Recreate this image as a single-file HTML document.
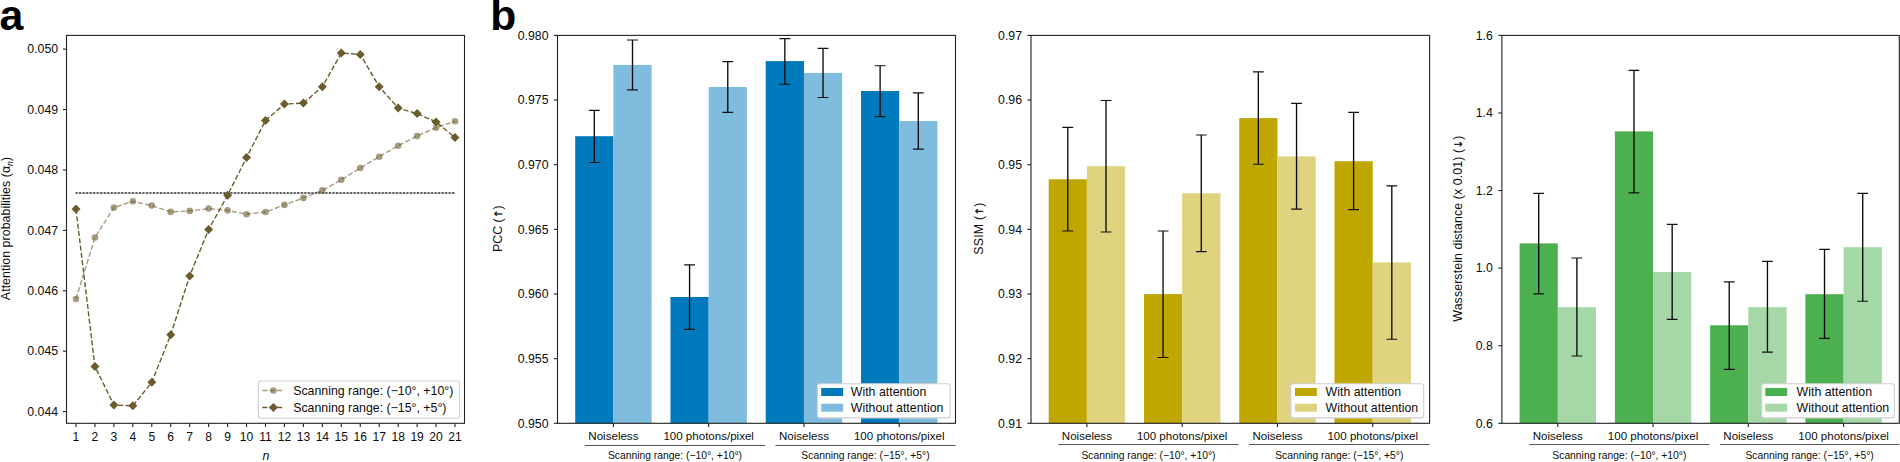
<!DOCTYPE html>
<html lang="en">
<head>
<meta charset="utf-8">
<title>Attention probabilities and reconstruction metrics</title>
<style>
html,body{margin:0;padding:0;background:#fff;}
body{width:1900px;height:462px;overflow:hidden;}
svg{display:block;font-family:"Liberation Sans", Arial, Helvetica, sans-serif;}
svg text{white-space:pre;}
</style>
</head>
<body>
<svg width="1900" height="462" viewBox="0 0 1900 462">
<rect width="1900" height="462" fill="#fff"/>
<g id="panel-a">
<text x="-0.60" y="30.10" font-size="42.8" text-anchor="start" fill="#000" font-weight="700">a</text>
<line x1="75.60" y1="192.95" x2="455.32" y2="192.95" stroke="#d4d4d4" stroke-width="2"/>
<line x1="75.60" y1="192.95" x2="455.32" y2="192.95" stroke="#5c5c5c" stroke-width="2" stroke-dasharray="1.9 1.62"/>
<polyline points="75.98,299.00 94.93,237.50 113.88,207.60 132.83,201.30 151.79,205.60 170.74,211.90 189.69,210.90 208.64,208.60 227.60,210.40 246.55,214.20 265.50,212.00 284.45,204.90 303.40,197.90 322.36,190.40 341.31,179.80 360.26,168.00 379.21,156.70 398.17,145.70 417.12,136.10 436.07,127.70 455.02,121.20" fill="none" stroke="#6b5b2d" stroke-opacity="0.6" stroke-width="1.4" stroke-dasharray="5.1 2.25"/>
<circle cx="75.98" cy="299.00" r="3.3" fill="#6b5b2d" fill-opacity="0.6"/>
<circle cx="94.93" cy="237.50" r="3.3" fill="#6b5b2d" fill-opacity="0.6"/>
<circle cx="113.88" cy="207.60" r="3.3" fill="#6b5b2d" fill-opacity="0.6"/>
<circle cx="132.83" cy="201.30" r="3.3" fill="#6b5b2d" fill-opacity="0.6"/>
<circle cx="151.79" cy="205.60" r="3.3" fill="#6b5b2d" fill-opacity="0.6"/>
<circle cx="170.74" cy="211.90" r="3.3" fill="#6b5b2d" fill-opacity="0.6"/>
<circle cx="189.69" cy="210.90" r="3.3" fill="#6b5b2d" fill-opacity="0.6"/>
<circle cx="208.64" cy="208.60" r="3.3" fill="#6b5b2d" fill-opacity="0.6"/>
<circle cx="227.60" cy="210.40" r="3.3" fill="#6b5b2d" fill-opacity="0.6"/>
<circle cx="246.55" cy="214.20" r="3.3" fill="#6b5b2d" fill-opacity="0.6"/>
<circle cx="265.50" cy="212.00" r="3.3" fill="#6b5b2d" fill-opacity="0.6"/>
<circle cx="284.45" cy="204.90" r="3.3" fill="#6b5b2d" fill-opacity="0.6"/>
<circle cx="303.40" cy="197.90" r="3.3" fill="#6b5b2d" fill-opacity="0.6"/>
<circle cx="322.36" cy="190.40" r="3.3" fill="#6b5b2d" fill-opacity="0.6"/>
<circle cx="341.31" cy="179.80" r="3.3" fill="#6b5b2d" fill-opacity="0.6"/>
<circle cx="360.26" cy="168.00" r="3.3" fill="#6b5b2d" fill-opacity="0.6"/>
<circle cx="379.21" cy="156.70" r="3.3" fill="#6b5b2d" fill-opacity="0.6"/>
<circle cx="398.17" cy="145.70" r="3.3" fill="#6b5b2d" fill-opacity="0.6"/>
<circle cx="417.12" cy="136.10" r="3.3" fill="#6b5b2d" fill-opacity="0.6"/>
<circle cx="436.07" cy="127.70" r="3.3" fill="#6b5b2d" fill-opacity="0.6"/>
<circle cx="455.02" cy="121.20" r="3.3" fill="#6b5b2d" fill-opacity="0.6"/>
<polyline points="75.98,209.10 94.93,366.50 113.88,405.00 132.83,405.80 151.79,382.30 170.74,334.70 189.69,275.90 208.64,229.50 227.60,195.30 246.55,157.50 265.50,120.50 284.45,104.10 303.40,103.10 322.36,86.70 341.31,53.10 360.26,54.40 379.21,86.70 398.17,108.10 417.12,113.60 436.07,121.90 455.02,137.50" fill="none" stroke="#6b5b2d" stroke-width="1.4" stroke-dasharray="5.1 2.25"/>
<path d="M75.98 204.60L80.48 209.10L75.98 213.60L71.48 209.10Z" fill="#6b5b2d"/>
<path d="M94.93 362.00L99.43 366.50L94.93 371.00L90.43 366.50Z" fill="#6b5b2d"/>
<path d="M113.88 400.50L118.38 405.00L113.88 409.50L109.38 405.00Z" fill="#6b5b2d"/>
<path d="M132.83 401.30L137.33 405.80L132.83 410.30L128.33 405.80Z" fill="#6b5b2d"/>
<path d="M151.79 377.80L156.29 382.30L151.79 386.80L147.29 382.30Z" fill="#6b5b2d"/>
<path d="M170.74 330.20L175.24 334.70L170.74 339.20L166.24 334.70Z" fill="#6b5b2d"/>
<path d="M189.69 271.40L194.19 275.90L189.69 280.40L185.19 275.90Z" fill="#6b5b2d"/>
<path d="M208.64 225.00L213.14 229.50L208.64 234.00L204.14 229.50Z" fill="#6b5b2d"/>
<path d="M227.60 190.80L232.10 195.30L227.60 199.80L223.10 195.30Z" fill="#6b5b2d"/>
<path d="M246.55 153.00L251.05 157.50L246.55 162.00L242.05 157.50Z" fill="#6b5b2d"/>
<path d="M265.50 116.00L270.00 120.50L265.50 125.00L261.00 120.50Z" fill="#6b5b2d"/>
<path d="M284.45 99.60L288.95 104.10L284.45 108.60L279.95 104.10Z" fill="#6b5b2d"/>
<path d="M303.40 98.60L307.90 103.10L303.40 107.60L298.90 103.10Z" fill="#6b5b2d"/>
<path d="M322.36 82.20L326.86 86.70L322.36 91.20L317.86 86.70Z" fill="#6b5b2d"/>
<path d="M341.31 48.60L345.81 53.10L341.31 57.60L336.81 53.10Z" fill="#6b5b2d"/>
<path d="M360.26 49.90L364.76 54.40L360.26 58.90L355.76 54.40Z" fill="#6b5b2d"/>
<path d="M379.21 82.20L383.71 86.70L379.21 91.20L374.71 86.70Z" fill="#6b5b2d"/>
<path d="M398.17 103.60L402.67 108.10L398.17 112.60L393.67 108.10Z" fill="#6b5b2d"/>
<path d="M417.12 109.10L421.62 113.60L417.12 118.10L412.62 113.60Z" fill="#6b5b2d"/>
<path d="M436.07 117.40L440.57 121.90L436.07 126.40L431.57 121.90Z" fill="#6b5b2d"/>
<path d="M455.02 133.00L459.52 137.50L455.02 142.00L450.52 137.50Z" fill="#6b5b2d"/>
<rect x="66.50" y="35.40" width="398.00" height="387.90" fill="none" stroke="#222" stroke-width="1.1"/>
<line x1="62.90" y1="49.10" x2="66.50" y2="49.10" stroke="#222" stroke-width="1.1"/>
<text x="58.10" y="53.40" font-size="12.3" text-anchor="end" fill="#0d0d0d" >0.050</text>
<line x1="62.90" y1="109.52" x2="66.50" y2="109.52" stroke="#222" stroke-width="1.1"/>
<text x="58.10" y="113.82" font-size="12.3" text-anchor="end" fill="#0d0d0d" >0.049</text>
<line x1="62.90" y1="169.93" x2="66.50" y2="169.93" stroke="#222" stroke-width="1.1"/>
<text x="58.10" y="174.23" font-size="12.3" text-anchor="end" fill="#0d0d0d" >0.048</text>
<line x1="62.90" y1="230.35" x2="66.50" y2="230.35" stroke="#222" stroke-width="1.1"/>
<text x="58.10" y="234.65" font-size="12.3" text-anchor="end" fill="#0d0d0d" >0.047</text>
<line x1="62.90" y1="290.77" x2="66.50" y2="290.77" stroke="#222" stroke-width="1.1"/>
<text x="58.10" y="295.07" font-size="12.3" text-anchor="end" fill="#0d0d0d" >0.046</text>
<line x1="62.90" y1="351.18" x2="66.50" y2="351.18" stroke="#222" stroke-width="1.1"/>
<text x="58.10" y="355.48" font-size="12.3" text-anchor="end" fill="#0d0d0d" >0.045</text>
<line x1="62.90" y1="411.60" x2="66.50" y2="411.60" stroke="#222" stroke-width="1.1"/>
<text x="58.10" y="415.90" font-size="12.3" text-anchor="end" fill="#0d0d0d" >0.044</text>
<line x1="75.98" y1="423.30" x2="75.98" y2="426.90" stroke="#222" stroke-width="1.1"/>
<text x="75.98" y="440.80" font-size="12.1" text-anchor="middle" fill="#0d0d0d" >1</text>
<line x1="94.93" y1="423.30" x2="94.93" y2="426.90" stroke="#222" stroke-width="1.1"/>
<text x="94.93" y="440.80" font-size="12.1" text-anchor="middle" fill="#0d0d0d" >2</text>
<line x1="113.88" y1="423.30" x2="113.88" y2="426.90" stroke="#222" stroke-width="1.1"/>
<text x="113.88" y="440.80" font-size="12.1" text-anchor="middle" fill="#0d0d0d" >3</text>
<line x1="132.83" y1="423.30" x2="132.83" y2="426.90" stroke="#222" stroke-width="1.1"/>
<text x="132.83" y="440.80" font-size="12.1" text-anchor="middle" fill="#0d0d0d" >4</text>
<line x1="151.79" y1="423.30" x2="151.79" y2="426.90" stroke="#222" stroke-width="1.1"/>
<text x="151.79" y="440.80" font-size="12.1" text-anchor="middle" fill="#0d0d0d" >5</text>
<line x1="170.74" y1="423.30" x2="170.74" y2="426.90" stroke="#222" stroke-width="1.1"/>
<text x="170.74" y="440.80" font-size="12.1" text-anchor="middle" fill="#0d0d0d" >6</text>
<line x1="189.69" y1="423.30" x2="189.69" y2="426.90" stroke="#222" stroke-width="1.1"/>
<text x="189.69" y="440.80" font-size="12.1" text-anchor="middle" fill="#0d0d0d" >7</text>
<line x1="208.64" y1="423.30" x2="208.64" y2="426.90" stroke="#222" stroke-width="1.1"/>
<text x="208.64" y="440.80" font-size="12.1" text-anchor="middle" fill="#0d0d0d" >8</text>
<line x1="227.60" y1="423.30" x2="227.60" y2="426.90" stroke="#222" stroke-width="1.1"/>
<text x="227.60" y="440.80" font-size="12.1" text-anchor="middle" fill="#0d0d0d" >9</text>
<line x1="246.55" y1="423.30" x2="246.55" y2="426.90" stroke="#222" stroke-width="1.1"/>
<text x="246.55" y="440.80" font-size="12.1" text-anchor="middle" fill="#0d0d0d" >10</text>
<line x1="265.50" y1="423.30" x2="265.50" y2="426.90" stroke="#222" stroke-width="1.1"/>
<text x="265.50" y="440.80" font-size="12.1" text-anchor="middle" fill="#0d0d0d" >11</text>
<line x1="284.45" y1="423.30" x2="284.45" y2="426.90" stroke="#222" stroke-width="1.1"/>
<text x="284.45" y="440.80" font-size="12.1" text-anchor="middle" fill="#0d0d0d" >12</text>
<line x1="303.40" y1="423.30" x2="303.40" y2="426.90" stroke="#222" stroke-width="1.1"/>
<text x="303.40" y="440.80" font-size="12.1" text-anchor="middle" fill="#0d0d0d" >13</text>
<line x1="322.36" y1="423.30" x2="322.36" y2="426.90" stroke="#222" stroke-width="1.1"/>
<text x="322.36" y="440.80" font-size="12.1" text-anchor="middle" fill="#0d0d0d" >14</text>
<line x1="341.31" y1="423.30" x2="341.31" y2="426.90" stroke="#222" stroke-width="1.1"/>
<text x="341.31" y="440.80" font-size="12.1" text-anchor="middle" fill="#0d0d0d" >15</text>
<line x1="360.26" y1="423.30" x2="360.26" y2="426.90" stroke="#222" stroke-width="1.1"/>
<text x="360.26" y="440.80" font-size="12.1" text-anchor="middle" fill="#0d0d0d" >16</text>
<line x1="379.21" y1="423.30" x2="379.21" y2="426.90" stroke="#222" stroke-width="1.1"/>
<text x="379.21" y="440.80" font-size="12.1" text-anchor="middle" fill="#0d0d0d" >17</text>
<line x1="398.17" y1="423.30" x2="398.17" y2="426.90" stroke="#222" stroke-width="1.1"/>
<text x="398.17" y="440.80" font-size="12.1" text-anchor="middle" fill="#0d0d0d" >18</text>
<line x1="417.12" y1="423.30" x2="417.12" y2="426.90" stroke="#222" stroke-width="1.1"/>
<text x="417.12" y="440.80" font-size="12.1" text-anchor="middle" fill="#0d0d0d" >19</text>
<line x1="436.07" y1="423.30" x2="436.07" y2="426.90" stroke="#222" stroke-width="1.1"/>
<text x="436.07" y="440.80" font-size="12.1" text-anchor="middle" fill="#0d0d0d" >20</text>
<line x1="455.02" y1="423.30" x2="455.02" y2="426.90" stroke="#222" stroke-width="1.1"/>
<text x="455.02" y="440.80" font-size="12.1" text-anchor="middle" fill="#0d0d0d" >21</text>
<text x="266.00" y="459.70" font-size="12.4" text-anchor="middle" fill="#0d0d0d" font-style="italic">n</text>
<text transform="translate(10.40,228.50) rotate(-90)" font-size="12.4" text-anchor="middle" fill="#0d0d0d" textLength="143.3" lengthAdjust="spacing">Attention probabilities (α<tspan font-size="8.7" dy="2.2" font-style="italic">n</tspan><tspan dy="-2.2">)</tspan></text>
<rect x="258.3" y="381.0" width="201.3" height="37.2" rx="2.6" fill="#fff" fill-opacity="0.8" stroke="#cfcfcf" stroke-width="1.1"/>
<line x1="262.3" y1="390.5" x2="284.5" y2="390.5" stroke="#6b5b2d" stroke-opacity="0.6" stroke-width="1.4" stroke-dasharray="5.1 2.25"/>
<circle cx="273.4" cy="390.5" r="3.3" fill="#6b5b2d" fill-opacity="0.6"/>
<text x="293.20" y="394.80" font-size="12.35" text-anchor="start" fill="#0d0d0d" >Scanning range: (−10°, +10°)</text>
<line x1="262.3" y1="407.5" x2="284.5" y2="407.5" stroke="#6b5b2d" stroke-opacity="1" stroke-width="1.4" stroke-dasharray="5.1 2.25"/>
<path d="M273.40 403.00L277.90 407.50L273.40 412.00L268.90 407.50Z" fill="#6b5b2d"/>
<text x="293.20" y="411.80" font-size="12.35" text-anchor="start" fill="#0d0d0d" >Scanning range: (−15°, +5°)</text>
</g>
<g id="panel-b">
<text x="490.20" y="30.30" font-size="42.6" text-anchor="start" fill="#000" font-weight="700">b</text>
<g>
<rect x="575.20" y="136.20" width="38.20" height="287.10" fill="#0079bd"/>
<rect x="613.40" y="64.90" width="38.20" height="358.40" fill="#80bcde"/>
<rect x="670.47" y="297.00" width="38.20" height="126.30" fill="#0079bd"/>
<rect x="708.67" y="87.00" width="38.20" height="336.30" fill="#80bcde"/>
<rect x="765.74" y="61.10" width="38.20" height="362.20" fill="#0079bd"/>
<rect x="803.94" y="72.90" width="38.20" height="350.40" fill="#80bcde"/>
<rect x="861.01" y="91.00" width="38.20" height="332.30" fill="#0079bd"/>
<rect x="899.21" y="121.00" width="38.20" height="302.30" fill="#80bcde"/>
<path d="M594.30 110.30V162.50" stroke="#0a0a0a" stroke-width="1.35" fill="none"/>
<path d="M588.90 110.30h10.8M588.90 162.50h10.8" stroke="#111" stroke-width="1.15" fill="none"/>
<path d="M632.50 40.00V89.80" stroke="#0a0a0a" stroke-width="1.35" fill="none"/>
<path d="M627.10 40.00h10.8M627.10 89.80h10.8" stroke="#111" stroke-width="1.15" fill="none"/>
<path d="M689.57 264.90V329.40" stroke="#0a0a0a" stroke-width="1.35" fill="none"/>
<path d="M684.17 264.90h10.8M684.17 329.40h10.8" stroke="#111" stroke-width="1.15" fill="none"/>
<path d="M727.77 61.60V112.30" stroke="#0a0a0a" stroke-width="1.35" fill="none"/>
<path d="M722.37 61.60h10.8M722.37 112.30h10.8" stroke="#111" stroke-width="1.15" fill="none"/>
<path d="M784.84 38.60V84.20" stroke="#0a0a0a" stroke-width="1.35" fill="none"/>
<path d="M779.44 38.60h10.8M779.44 84.20h10.8" stroke="#111" stroke-width="1.15" fill="none"/>
<path d="M823.04 48.30V97.50" stroke="#0a0a0a" stroke-width="1.35" fill="none"/>
<path d="M817.64 48.30h10.8M817.64 97.50h10.8" stroke="#111" stroke-width="1.15" fill="none"/>
<path d="M880.11 65.70V116.60" stroke="#0a0a0a" stroke-width="1.35" fill="none"/>
<path d="M874.71 65.70h10.8M874.71 116.60h10.8" stroke="#111" stroke-width="1.15" fill="none"/>
<path d="M918.31 92.90V149.10" stroke="#0a0a0a" stroke-width="1.35" fill="none"/>
<path d="M912.91 92.90h10.8M912.91 149.10h10.8" stroke="#111" stroke-width="1.15" fill="none"/>
<rect x="557.50" y="35.40" width="398.00" height="387.90" fill="none" stroke="#222" stroke-width="1.1"/>
<line x1="553.90" y1="35.40" x2="557.50" y2="35.40" stroke="#222" stroke-width="1.1"/>
<text x="548.50" y="39.65" font-size="12.3" text-anchor="end" fill="#0d0d0d" >0.980</text>
<line x1="553.90" y1="100.05" x2="557.50" y2="100.05" stroke="#222" stroke-width="1.1"/>
<text x="548.50" y="104.30" font-size="12.3" text-anchor="end" fill="#0d0d0d" >0.975</text>
<line x1="553.90" y1="164.70" x2="557.50" y2="164.70" stroke="#222" stroke-width="1.1"/>
<text x="548.50" y="168.95" font-size="12.3" text-anchor="end" fill="#0d0d0d" >0.970</text>
<line x1="553.90" y1="229.35" x2="557.50" y2="229.35" stroke="#222" stroke-width="1.1"/>
<text x="548.50" y="233.60" font-size="12.3" text-anchor="end" fill="#0d0d0d" >0.965</text>
<line x1="553.90" y1="294.00" x2="557.50" y2="294.00" stroke="#222" stroke-width="1.1"/>
<text x="548.50" y="298.25" font-size="12.3" text-anchor="end" fill="#0d0d0d" >0.960</text>
<line x1="553.90" y1="358.65" x2="557.50" y2="358.65" stroke="#222" stroke-width="1.1"/>
<text x="548.50" y="362.90" font-size="12.3" text-anchor="end" fill="#0d0d0d" >0.955</text>
<line x1="553.90" y1="423.30" x2="557.50" y2="423.30" stroke="#222" stroke-width="1.1"/>
<text x="548.50" y="427.55" font-size="12.3" text-anchor="end" fill="#0d0d0d" >0.950</text>
<line x1="613.40" y1="423.30" x2="613.40" y2="426.90" stroke="#222" stroke-width="1.1"/>
<text x="613.40" y="439.70" font-size="11.55" text-anchor="middle" fill="#0d0d0d" >Noiseless</text>
<line x1="708.67" y1="423.30" x2="708.67" y2="426.90" stroke="#222" stroke-width="1.1"/>
<text x="708.67" y="439.70" font-size="11.55" text-anchor="middle" fill="#0d0d0d" >100 photons/pixel</text>
<line x1="803.94" y1="423.30" x2="803.94" y2="426.90" stroke="#222" stroke-width="1.1"/>
<text x="803.94" y="439.70" font-size="11.55" text-anchor="middle" fill="#0d0d0d" >Noiseless</text>
<line x1="899.21" y1="423.30" x2="899.21" y2="426.90" stroke="#222" stroke-width="1.1"/>
<text x="899.21" y="439.70" font-size="11.55" text-anchor="middle" fill="#0d0d0d" >100 photons/pixel</text>
<line x1="584.80" y1="445.5" x2="765.10" y2="445.5" stroke="#383838" stroke-width="0.85"/>
<text x="674.95" y="458.60" font-size="10.33" text-anchor="middle" fill="#0d0d0d" >Scanning range: (−10°, +10°)</text>
<line x1="775.50" y1="445.5" x2="955.50" y2="445.5" stroke="#383838" stroke-width="0.85"/>
<text x="865.50" y="458.60" font-size="10.33" text-anchor="middle" fill="#0d0d0d" >Scanning range: (−15°, +5°)</text>
<text transform="translate(502.10,228.70) rotate(-90)" font-size="12.4" text-anchor="middle" fill="#0d0d0d" textLength="46.5" lengthAdjust="spacing">PCC (<tspan font-family="DejaVu Sans, sans-serif" font-size="10.5" stroke="#0d0d0d" stroke-width="0.35">↑</tspan>)</text>
<rect x="817.40" y="383.7" width="132.8" height="34.2" rx="2.6" fill="#fff" stroke="#d0d0d0" stroke-width="1.1"/>
<rect x="821.20" y="388.0" width="21.9" height="8.0" fill="#0079bd"/>
<rect x="821.20" y="403.7" width="21.9" height="8.0" fill="#80bcde"/>
<text x="850.80" y="395.90" font-size="12.35" text-anchor="start" fill="#0d0d0d" >With attention</text>
<text x="850.80" y="411.60" font-size="12.35" text-anchor="start" fill="#0d0d0d" >Without attention</text>
</g>
<g>
<rect x="1048.70" y="179.30" width="38.20" height="244.00" fill="#bfa700"/>
<rect x="1086.90" y="166.20" width="38.20" height="257.10" fill="#dfd380"/>
<rect x="1143.97" y="294.10" width="38.20" height="129.20" fill="#bfa700"/>
<rect x="1182.17" y="193.30" width="38.20" height="230.00" fill="#dfd380"/>
<rect x="1239.24" y="118.10" width="38.20" height="305.20" fill="#bfa700"/>
<rect x="1277.44" y="156.40" width="38.20" height="266.90" fill="#dfd380"/>
<rect x="1334.51" y="161.20" width="38.20" height="262.10" fill="#bfa700"/>
<rect x="1372.71" y="262.40" width="38.20" height="160.90" fill="#dfd380"/>
<path d="M1067.80 127.40V231.00" stroke="#0a0a0a" stroke-width="1.35" fill="none"/>
<path d="M1062.40 127.40h10.8M1062.40 231.00h10.8" stroke="#111" stroke-width="1.15" fill="none"/>
<path d="M1106.00 100.50V232.00" stroke="#0a0a0a" stroke-width="1.35" fill="none"/>
<path d="M1100.60 100.50h10.8M1100.60 232.00h10.8" stroke="#111" stroke-width="1.15" fill="none"/>
<path d="M1163.07 231.00V357.50" stroke="#0a0a0a" stroke-width="1.35" fill="none"/>
<path d="M1157.67 231.00h10.8M1157.67 357.50h10.8" stroke="#111" stroke-width="1.15" fill="none"/>
<path d="M1201.27 135.00V251.60" stroke="#0a0a0a" stroke-width="1.35" fill="none"/>
<path d="M1195.87 135.00h10.8M1195.87 251.60h10.8" stroke="#111" stroke-width="1.15" fill="none"/>
<path d="M1258.34 71.90V164.20" stroke="#0a0a0a" stroke-width="1.35" fill="none"/>
<path d="M1252.94 71.90h10.8M1252.94 164.20h10.8" stroke="#111" stroke-width="1.15" fill="none"/>
<path d="M1296.54 103.30V209.10" stroke="#0a0a0a" stroke-width="1.35" fill="none"/>
<path d="M1291.14 103.30h10.8M1291.14 209.10h10.8" stroke="#111" stroke-width="1.15" fill="none"/>
<path d="M1353.61 112.40V209.60" stroke="#0a0a0a" stroke-width="1.35" fill="none"/>
<path d="M1348.21 112.40h10.8M1348.21 209.60h10.8" stroke="#111" stroke-width="1.15" fill="none"/>
<path d="M1391.81 185.80V339.20" stroke="#0a0a0a" stroke-width="1.35" fill="none"/>
<path d="M1386.41 185.80h10.8M1386.41 339.20h10.8" stroke="#111" stroke-width="1.15" fill="none"/>
<rect x="1031.00" y="35.40" width="398.60" height="387.90" fill="none" stroke="#222" stroke-width="1.1"/>
<line x1="1027.40" y1="35.40" x2="1031.00" y2="35.40" stroke="#222" stroke-width="1.1"/>
<text x="1022.00" y="39.65" font-size="12.3" text-anchor="end" fill="#0d0d0d" >0.97</text>
<line x1="1027.40" y1="100.05" x2="1031.00" y2="100.05" stroke="#222" stroke-width="1.1"/>
<text x="1022.00" y="104.30" font-size="12.3" text-anchor="end" fill="#0d0d0d" >0.96</text>
<line x1="1027.40" y1="164.70" x2="1031.00" y2="164.70" stroke="#222" stroke-width="1.1"/>
<text x="1022.00" y="168.95" font-size="12.3" text-anchor="end" fill="#0d0d0d" >0.95</text>
<line x1="1027.40" y1="229.35" x2="1031.00" y2="229.35" stroke="#222" stroke-width="1.1"/>
<text x="1022.00" y="233.60" font-size="12.3" text-anchor="end" fill="#0d0d0d" >0.94</text>
<line x1="1027.40" y1="294.00" x2="1031.00" y2="294.00" stroke="#222" stroke-width="1.1"/>
<text x="1022.00" y="298.25" font-size="12.3" text-anchor="end" fill="#0d0d0d" >0.93</text>
<line x1="1027.40" y1="358.65" x2="1031.00" y2="358.65" stroke="#222" stroke-width="1.1"/>
<text x="1022.00" y="362.90" font-size="12.3" text-anchor="end" fill="#0d0d0d" >0.92</text>
<line x1="1027.40" y1="423.30" x2="1031.00" y2="423.30" stroke="#222" stroke-width="1.1"/>
<text x="1022.00" y="427.55" font-size="12.3" text-anchor="end" fill="#0d0d0d" >0.91</text>
<line x1="1086.90" y1="423.30" x2="1086.90" y2="426.90" stroke="#222" stroke-width="1.1"/>
<text x="1086.90" y="439.70" font-size="11.55" text-anchor="middle" fill="#0d0d0d" >Noiseless</text>
<line x1="1182.17" y1="423.30" x2="1182.17" y2="426.90" stroke="#222" stroke-width="1.1"/>
<text x="1182.17" y="439.70" font-size="11.55" text-anchor="middle" fill="#0d0d0d" >100 photons/pixel</text>
<line x1="1277.44" y1="423.30" x2="1277.44" y2="426.90" stroke="#222" stroke-width="1.1"/>
<text x="1277.44" y="439.70" font-size="11.55" text-anchor="middle" fill="#0d0d0d" >Noiseless</text>
<line x1="1372.71" y1="423.30" x2="1372.71" y2="426.90" stroke="#222" stroke-width="1.1"/>
<text x="1372.71" y="439.70" font-size="11.55" text-anchor="middle" fill="#0d0d0d" >100 photons/pixel</text>
<line x1="1058.30" y1="444.5" x2="1238.60" y2="444.5" stroke="#383838" stroke-width="0.85"/>
<text x="1148.45" y="458.60" font-size="10.33" text-anchor="middle" fill="#0d0d0d" >Scanning range: (−10°, +10°)</text>
<line x1="1249.00" y1="444.5" x2="1429.60" y2="444.5" stroke="#383838" stroke-width="0.85"/>
<text x="1339.30" y="458.60" font-size="10.33" text-anchor="middle" fill="#0d0d0d" >Scanning range: (−15°, +5°)</text>
<text transform="translate(983.30,228.70) rotate(-90)" font-size="12.4" text-anchor="middle" fill="#0d0d0d" textLength="52.0" lengthAdjust="spacing">SSIM (<tspan font-family="DejaVu Sans, sans-serif" font-size="10.5" stroke="#0d0d0d" stroke-width="0.35">↑</tspan>)</text>
<rect x="1290.90" y="383.7" width="132.8" height="34.2" rx="2.6" fill="#fff" stroke="#d0d0d0" stroke-width="1.1"/>
<rect x="1295.00" y="388.0" width="21.9" height="8.0" fill="#bfa700"/>
<rect x="1295.00" y="403.7" width="21.9" height="8.0" fill="#dfd380"/>
<text x="1325.60" y="395.90" font-size="12.35" text-anchor="start" fill="#0d0d0d" >With attention</text>
<text x="1325.60" y="411.60" font-size="12.35" text-anchor="start" fill="#0d0d0d" >Without attention</text>
</g>
<g>
<rect x="1519.60" y="243.40" width="38.20" height="179.90" fill="#4caf50"/>
<rect x="1557.80" y="307.20" width="38.20" height="116.10" fill="#a5d7a7"/>
<rect x="1614.87" y="131.40" width="38.20" height="291.90" fill="#4caf50"/>
<rect x="1653.07" y="272.10" width="38.20" height="151.20" fill="#a5d7a7"/>
<rect x="1710.14" y="325.30" width="38.20" height="98.00" fill="#4caf50"/>
<rect x="1748.34" y="307.20" width="38.20" height="116.10" fill="#a5d7a7"/>
<rect x="1805.41" y="294.20" width="38.20" height="129.10" fill="#4caf50"/>
<rect x="1843.61" y="247.20" width="38.20" height="176.10" fill="#a5d7a7"/>
<path d="M1538.70 193.40V293.90" stroke="#0a0a0a" stroke-width="1.35" fill="none"/>
<path d="M1533.30 193.40h10.8M1533.30 293.90h10.8" stroke="#111" stroke-width="1.15" fill="none"/>
<path d="M1576.90 258.00V356.00" stroke="#0a0a0a" stroke-width="1.35" fill="none"/>
<path d="M1571.50 258.00h10.8M1571.50 356.00h10.8" stroke="#111" stroke-width="1.15" fill="none"/>
<path d="M1633.97 70.40V192.90" stroke="#0a0a0a" stroke-width="1.35" fill="none"/>
<path d="M1628.57 70.40h10.8M1628.57 192.90h10.8" stroke="#111" stroke-width="1.15" fill="none"/>
<path d="M1672.17 224.30V319.30" stroke="#0a0a0a" stroke-width="1.35" fill="none"/>
<path d="M1666.77 224.30h10.8M1666.77 319.30h10.8" stroke="#111" stroke-width="1.15" fill="none"/>
<path d="M1729.24 281.90V369.30" stroke="#0a0a0a" stroke-width="1.35" fill="none"/>
<path d="M1723.84 281.90h10.8M1723.84 369.30h10.8" stroke="#111" stroke-width="1.15" fill="none"/>
<path d="M1767.44 261.40V352.10" stroke="#0a0a0a" stroke-width="1.35" fill="none"/>
<path d="M1762.04 261.40h10.8M1762.04 352.10h10.8" stroke="#111" stroke-width="1.15" fill="none"/>
<path d="M1824.51 249.40V338.40" stroke="#0a0a0a" stroke-width="1.35" fill="none"/>
<path d="M1819.11 249.40h10.8M1819.11 338.40h10.8" stroke="#111" stroke-width="1.15" fill="none"/>
<path d="M1862.71 193.40V301.20" stroke="#0a0a0a" stroke-width="1.35" fill="none"/>
<path d="M1857.31 193.40h10.8M1857.31 301.20h10.8" stroke="#111" stroke-width="1.15" fill="none"/>
<rect x="1501.90" y="35.40" width="397.40" height="387.90" fill="none" stroke="#222" stroke-width="1.1"/>
<line x1="1498.30" y1="35.40" x2="1501.90" y2="35.40" stroke="#222" stroke-width="1.1"/>
<text x="1492.90" y="39.65" font-size="12.3" text-anchor="end" fill="#0d0d0d" >1.6</text>
<line x1="1498.30" y1="112.98" x2="1501.90" y2="112.98" stroke="#222" stroke-width="1.1"/>
<text x="1492.90" y="117.23" font-size="12.3" text-anchor="end" fill="#0d0d0d" >1.4</text>
<line x1="1498.30" y1="190.56" x2="1501.90" y2="190.56" stroke="#222" stroke-width="1.1"/>
<text x="1492.90" y="194.81" font-size="12.3" text-anchor="end" fill="#0d0d0d" >1.2</text>
<line x1="1498.30" y1="268.14" x2="1501.90" y2="268.14" stroke="#222" stroke-width="1.1"/>
<text x="1492.90" y="272.39" font-size="12.3" text-anchor="end" fill="#0d0d0d" >1.0</text>
<line x1="1498.30" y1="345.72" x2="1501.90" y2="345.72" stroke="#222" stroke-width="1.1"/>
<text x="1492.90" y="349.97" font-size="12.3" text-anchor="end" fill="#0d0d0d" >0.8</text>
<line x1="1498.30" y1="423.30" x2="1501.90" y2="423.30" stroke="#222" stroke-width="1.1"/>
<text x="1492.90" y="427.55" font-size="12.3" text-anchor="end" fill="#0d0d0d" >0.6</text>
<line x1="1557.80" y1="423.30" x2="1557.80" y2="426.90" stroke="#222" stroke-width="1.1"/>
<text x="1557.80" y="439.70" font-size="11.55" text-anchor="middle" fill="#0d0d0d" >Noiseless</text>
<line x1="1653.07" y1="423.30" x2="1653.07" y2="426.90" stroke="#222" stroke-width="1.1"/>
<text x="1653.07" y="439.70" font-size="11.55" text-anchor="middle" fill="#0d0d0d" >100 photons/pixel</text>
<line x1="1748.34" y1="423.30" x2="1748.34" y2="426.90" stroke="#222" stroke-width="1.1"/>
<text x="1748.34" y="439.70" font-size="11.55" text-anchor="middle" fill="#0d0d0d" >Noiseless</text>
<line x1="1843.61" y1="423.30" x2="1843.61" y2="426.90" stroke="#222" stroke-width="1.1"/>
<text x="1843.61" y="439.70" font-size="11.55" text-anchor="middle" fill="#0d0d0d" >100 photons/pixel</text>
<line x1="1529.20" y1="444.5" x2="1709.50" y2="444.5" stroke="#383838" stroke-width="0.85"/>
<text x="1619.35" y="458.60" font-size="10.33" text-anchor="middle" fill="#0d0d0d" >Scanning range: (−10°, +10°)</text>
<line x1="1719.90" y1="444.5" x2="1899.30" y2="444.5" stroke="#383838" stroke-width="0.85"/>
<text x="1809.60" y="458.60" font-size="10.33" text-anchor="middle" fill="#0d0d0d" >Scanning range: (−15°, +5°)</text>
<text transform="translate(1461.60,228.70) rotate(-90)" font-size="12.4" text-anchor="middle" fill="#0d0d0d" textLength="186.0" lengthAdjust="spacing">Wasserstein distance (x 0.01) (<tspan font-family="DejaVu Sans, sans-serif" font-size="10.5" stroke="#0d0d0d" stroke-width="0.35">↓</tspan>)</text>
<rect x="1761.60" y="383.7" width="132.8" height="34.2" rx="2.6" fill="#fff" stroke="#d0d0d0" stroke-width="1.1"/>
<rect x="1765.30" y="388.0" width="21.9" height="8.0" fill="#4caf50"/>
<rect x="1765.30" y="403.7" width="21.9" height="8.0" fill="#a5d7a7"/>
<text x="1796.60" y="395.90" font-size="12.35" text-anchor="start" fill="#0d0d0d" >With attention</text>
<text x="1796.60" y="411.60" font-size="12.35" text-anchor="start" fill="#0d0d0d" >Without attention</text>
</g>
</g>
</svg>
</body>
</html>
